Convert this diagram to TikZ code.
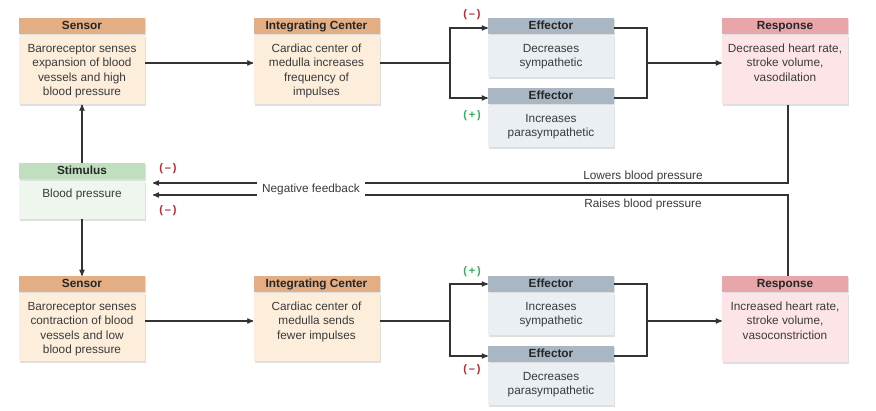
\documentclass[tikz,border=0pt]{standalone}
\usepackage{fontspec}
\setmainfont{Liberation Sans}
\usetikzlibrary{arrows,shapes,positioning,calc,shadows}
\definecolor{senH}{HTML}{E3AE84}
\definecolor{senB}{HTML}{FDEEDC}
\definecolor{effH}{HTML}{A9B7C4}
\definecolor{effB}{HTML}{E9EFF3}
\definecolor{resH}{HTML}{E8A6AA}
\definecolor{resB}{HTML}{FDE5E7}
\definecolor{stiH}{HTML}{C0DFBF}
\definecolor{stiB}{HTML}{EFF6EE}
\definecolor{minusred}{HTML}{B1282E}
\definecolor{plusgreen}{HTML}{2EAE5B}
\definecolor{ink}{HTML}{3A3A3A}
\newcommand{\fsz}{\fontsize{11.8pt}{14.4pt}\selectfont}
\newcommand{\boxtext}[2]{\parbox[c][#1][t]{126pt}{\centering\rule{0pt}{17pt}#2}}
\tikzset{
    head/.style={
        rectangle,
        minimum width=126pt,
        minimum height=16pt,
        inner sep=0pt,
        text height=8.6pt,
        text depth=2.4pt,
        font=\fsz\bfseries,
        text=black!85,
        drop shadow={shadow xshift=1pt, shadow yshift=-1.5pt, opacity=0.25, fill=black!50},
    },
    body/.style={
        rectangle,
        inner sep=0pt,
        font=\fsz,
        text=ink,
        drop shadow={shadow xshift=1pt, shadow yshift=-2pt, opacity=0.25, fill=black!50},
    },
    conn/.style={
        draw=black!80,
        line width=1.2pt,
    },
    arr/.style={
        conn,
        ->,>=stealth',
    },
    minus/.style={
        font=\fontsize{11pt}{13pt}\selectfont\bfseries,
        text=minusred,
    },
    plus/.style={
        font=\fontsize{11pt}{13pt}\selectfont\bfseries,
        text=plusgreen,
    },
    every node/.append style={font=\fsz, text=ink},
}

\begin{document}
\begin{tikzpicture}[x=1pt,y=-1pt]
\useasboundingbox (0,0) rectangle (876,411);

% upper loop: high blood pressure
\node [head, fill=senH] (S1h) at (82,26) {Sensor};
\node [body, fill=senB, below=1pt of S1h] (S1b) {\boxtext{69pt}{Baroreceptor senses\\expansion of blood\\vessels and high\\blood pressure}};
\node [head, fill=senH] (I1h) at (316.5,26) {Integrating Center};
\node [body, fill=senB, below=1pt of I1h] (I1b) {\boxtext{69pt}{Cardiac center of\\medulla increases\\frequency of\\impulses}};
\node [head, fill=effH] (E1h) at (551,26) {Effector};
\node [body, fill=effB, below=1pt of E1h] (E1b) {\boxtext{42pt}{Decreases\\sympathetic}};
\node [head, fill=effH] (E2h) at (551,96) {Effector};
\node [body, fill=effB, below=1pt of E2h] (E2b) {\boxtext{42pt}{Increases\\parasympathetic}};
\node [head, fill=resH] (R1h) at (785,26) {Response};
\node [body, fill=resB, below=1pt of R1h] (R1b) {\boxtext{69pt}{Decreased heart rate,\\stroke volume,\\vasodilation}};
\node [minus] (m1) at (472,15) {(\,–\,)};
\node [plus] (p1) at (472,116) {(\,+\,)};

% stimulus
\node [head, fill=stiH] (Th) at (82,171.5) {Stimulus};
\node [body, fill=stiB, below=1pt of Th] (Tb) {\boxtext{38pt}{Blood pressure}};
\node [minus] (m2) at (168,169) {(\,–\,)};
\node [minus] (m3) at (168,211) {(\,–\,)};

% lower loop: low blood pressure
\node [head, fill=senH] (S2h) at (82,284) {Sensor};
\node [body, fill=senB, below=1pt of S2h] (S2b) {\boxtext{68pt}{Baroreceptor senses\\contraction of blood\\vessels and low\\blood pressure}};
\node [head, fill=senH] (I2h) at (316.5,284) {Integrating Center};
\node [body, fill=senB, below=1pt of I2h] (I2b) {\boxtext{68pt}{Cardiac center of\\medulla sends\\fewer impulses}};
\node [head, fill=effH] (E3h) at (551,284) {Effector};
\node [body, fill=effB, below=1pt of E3h] (E3b) {\boxtext{42pt}{Increases\\sympathetic}};
\node [head, fill=effH] (E4h) at (551,354) {Effector};
\node [body, fill=effB, below=1pt of E4h] (E4b) {\boxtext{42pt}{Decreases\\parasympathetic}};
\node [head, fill=resH] (R2h) at (785,284) {Response};
\node [body, fill=resB, below=1pt of R2h] (R2b) {\boxtext{69pt}{Increased heart rate,\\stroke volume,\\vasoconstriction}};
\node [plus] (p2) at (472,272) {(\,+\,)};
\node [minus] (m4) at (472,370) {(\,–\,)};

\coordinate (brA) at (450,63);
\coordinate (mgA) at (647,63);
\coordinate (brB) at (450,321);
\coordinate (mgB) at (647,321);
\coordinate (fbA) at (153,183);
\coordinate (fbB) at (153,195);

\draw [arr] (S1b.east |- brA) -- (I1b.west |- brA);
\draw [conn] (I1b.east |- brA) -- (brA);
\draw [arr] (brA) |- ([yshift=-2pt]E1h.west);
\draw [arr] (brA) |- ([yshift=-2pt]E2h.west);
\draw [conn] ([yshift=-2pt]E1h.east) -| (mgA) |- ([yshift=-2pt]E2h.east);
\draw [arr] (mgA) -- (R1b.west |- mgA);

\draw [arr] (Th.north) -- (S1b.south);
\draw [arr] (Tb.south) -- (S2h.north);

\draw [arr] (S2b.east |- brB) -- (I2b.west |- brB);
\draw [conn] (I2b.east |- brB) -- (brB);
\draw [arr] (brB) |- (E3h.west);
\draw [arr] (brB) |- ([yshift=-2pt]E4h.west);
\draw [conn] (E3h.east) -| (mgB) |- ([yshift=-2pt]E4h.east);
\draw [arr] (mgB) -- (R2b.west |- mgB);

\draw [arr] ([xshift=3pt]R1b.south) |- (fbA);
\draw [arr] ([xshift=3pt]R2h.north) |- (fbB);
\node [fill=white, inner xsep=5pt, inner ysep=4pt] (nf) at (311,189) {Negative feedback};
\node (lw) at (643,176) {Lowers blood pressure};
\node (rs) at (643,204) {Raises blood pressure};
\end{tikzpicture}
\end{document}
